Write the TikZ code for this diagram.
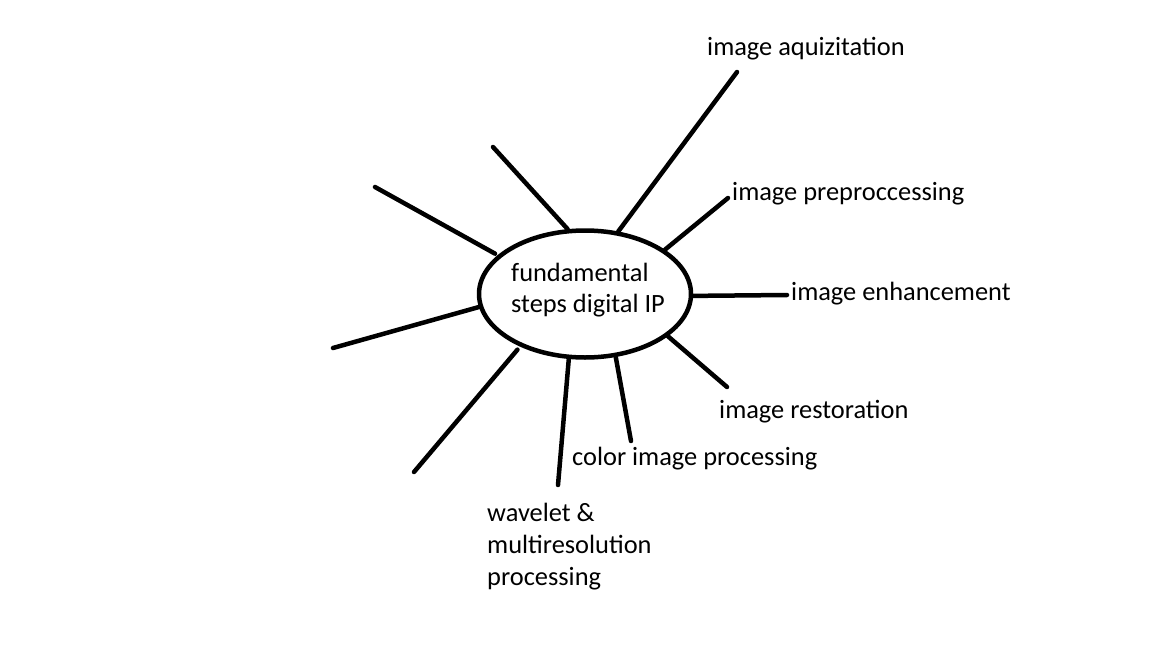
\documentclass[tikz,border=0pt]{standalone}
\usepackage{fontspec}
\setmainfont{Carlito}
\usetikzlibrary{shapes.geometric}
\begin{document}
\begin{tikzpicture}[x=1pt,y=-1pt,
  spoke/.style={line width=4.5pt,line cap=round},
  lbl/.style={anchor=base west,inner sep=0pt,font=\fontsize{26.4}{32}\selectfont},
  hub/.style={ellipse,draw,line width=4.5pt,minimum width=212pt,minimum height=127pt,inner sep=0pt},
  hubtext/.style={anchor=base west,inner sep=0pt,align=left,font=\fontsize{26.4}{30.6}\selectfont}]
\useasboundingbox (0,0) rectangle (1152,648);
\node[hub] (c) at (585,294) {};
\node[hubtext] (t) at (511,312.3) {fundamental\\steps digital IP};
\node[lbl] (l1) at (707,55) {image aquizitation};
\node[lbl] (l2) at (732,200) {image preproccessing};
\node[lbl] (l3) at (791,300) {image enhancement};
\node[lbl] (l4) at (719,418) {image restoration};
\node[lbl] (l5) at (572,465) {color image processing};
\node[lbl,align=left] (l6) at (487,585) {wavelet \&\\multiresolution\\processing};
\coordinate (e1) at (737,72);
\coordinate (e2) at (728,198);
\coordinate (e3) at (787,295);
\coordinate (e4) at (727,387);
\coordinate (e5) at (631,441);
\coordinate (e6) at (558,485);
\coordinate (e7) at (414,472);
\coordinate (e8) at (333,348);
\coordinate (e9) at (375,187);
\coordinate (e10) at (493,147);
\draw[spoke] (c.62.7) -- (e1);
\draw[spoke] (c.29.6) -- (e2);
\draw[spoke] (c.-1.6) -- (e3);
\draw[spoke] (c.-27.1) -- (e4);
\draw[spoke] (c.-64.1) -- (e5);
\draw[spoke] (c.-104.4) -- (e6);
\draw[spoke,shorten <=4pt] (c.-141.1) -- (e7);
\draw[spoke] (c.-173.7) -- (e8);
\draw[spoke,shorten <=3pt] (c.156.5) -- (e9);
\draw[spoke] (c.105.8) -- (e10);
\end{tikzpicture}
\end{document}
